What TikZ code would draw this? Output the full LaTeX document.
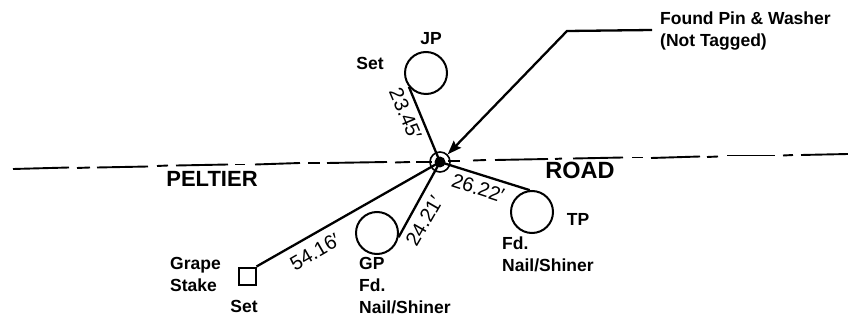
\documentclass[tikz,border=0pt]{standalone}
\usepackage{fontspec}
\setmainfont{Liberation Sans}
\usetikzlibrary{arrows.meta}
\tikzset{
  x=1pt,y=-1pt,
  mark circle/.style={draw,circle,line width=2pt,minimum size=42pt,inner sep=0pt},
  stake box/.style={draw,rectangle,line width=2pt,minimum size=17pt,inner sep=0pt},
  tie/.style={line width=2.3pt},
  leader/.style={line width=2.3pt},
  road/.style={line width=1.9pt},
  txt/.style={font=\bfseries\fontsize{17.5}{22}\selectfont,inner sep=0pt,align=left},
  big/.style={font=\bfseries\fontsize{22}{24}\selectfont,inner sep=0pt},
  dist/.style={font=\fontsize{20}{24}\selectfont,inner sep=0pt},
}
\begin{document}
\begin{tikzpicture}
\useasboundingbox (0,0) rectangle (848,320);
% road
\foreach \a/\b/\c/\d in {13/169/69/167.5,77/168/90/167.5,97/167.5/148/166.5,157/166/168/165.5,176/165.5/228/164.5,235/164.5/245/164.5,255/164.5/300/163,308/163/320/163,327/163/387/162,395/162.5/410/162,416/162/432/162,448/161/460/161,473/160.5/486/160,495/160/548/159,555/159/562/158.5,573/158.5/623/157.5,632/157.5/643/157.5,651/158/700/156.5,707/157/718/156.5,727/155.5/775/155.5,783/155.5/793/155,801/155/848/154}
  \draw[road] (\a,\b) -- (\c,\d);
% markers
\node[draw,circle,line width=1.6pt,minimum size=20pt,inner sep=0pt] (pin) at (440,162) {};
\fill (pin.center) circle (5.5pt);
\node[mark circle] (jp) at (426,73) {};
\node[mark circle] (gp) at (377,233) {};
\node[mark circle] (tp) at (532,212) {};
\node[stake box] (stake) at (247,276) {};
% ties
\draw[tie] (jp.219) -- (pin.center);
\draw[tie] (gp.-11) -- (pin.center);
\draw[tie] (tp.96) -- (pin.center);
\draw[tie] (stake.north east) -- (pin.center);
% leader
\coordinate (bend) at (567,31);
\coordinate (tail) at (652,30);
\draw[leader,-{Stealth[length=14pt,width=10pt,inset=2pt]}] (tail) -- (bend) -- (pin.45);
% distances
\node[dist,rotate=-67] (d1) at (405.5,114) {23.45′};
\node[dist,rotate=30] (d2) at (315,252) {54.16′};
\node[dist,rotate=60] (d3) at (424,221) {24.21′};
\node[dist,rotate=-18] (d4) at (478,188) {26.22′};
% labels
\node[big] (peltier) at (212,179) {PELTIER};
\node[big,font=\bfseries\fontsize{23.5}{24}\selectfont] (roadlab) at (580,170) {ROAD};
\node[txt] (jpl) at (431,39) {JP};
\node[txt] (jps) at (370,63) {Set};
\node[txt,anchor=west] (found) at (660,31) {Found Pin \& Washer\\(Not Tagged)};
\node[txt] (tpl) at (578,219) {TP};
\node[txt,anchor=west] (tpn) at (502,254) {Fd.\\Nail/Shiner};
\node[txt,anchor=west] (gpn) at (359,286) {GP\\Fd.\\Nail/Shiner};
\node[txt,anchor=west] (sn) at (170,274) {Grape\\Stake};
\node[txt] (ss) at (244,306) {Set};
\end{tikzpicture}
\end{document}
